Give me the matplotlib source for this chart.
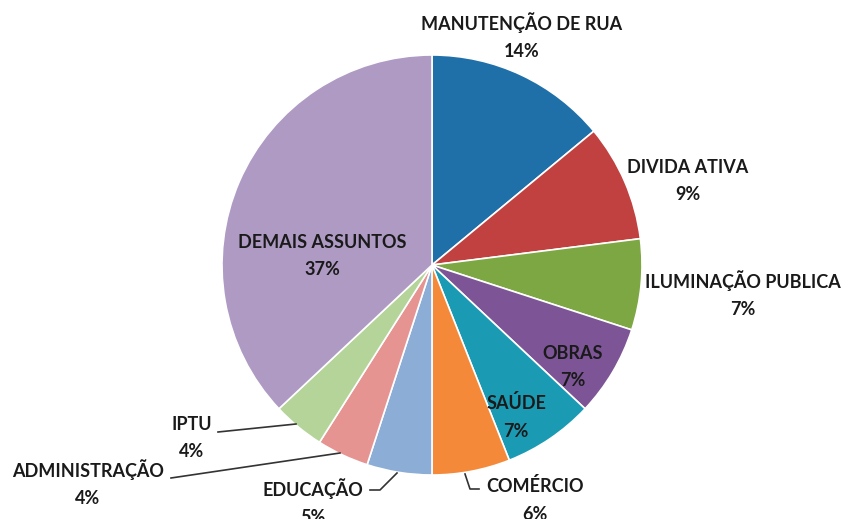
import matplotlib.pyplot as plt

# dados
categorias = ["MANUTENÇÃO DE RUA", "DIVIDA ATIVA", "ILUMINAÇÃO PUBLICA", "OBRAS",
              "SAÚDE", "COMÉRCIO", "EDUCAÇÃO", "ADMINISTRAÇÃO", "IPTU",
              "DEMAIS ASSUNTOS"]
percentuais = [14, 9, 7, 7, 7, 6, 5, 4, 4, 37]
cores = ["#1F6FA9", "#C0413F", "#7CA743", "#7D5597", "#1B9AB4",
         "#F4893A", "#8CADD6", "#E59492", "#B4D499", "#AE9AC3"]

# posicao dos rotulos (pixels na imagem: centro x, centro y)
pos_rotulos = [(522, 36), (688, 181), (743, 294), (573, 367), (516, 417),
               (535, 500), (313, 502), (88, 483), (192, 438), (322, 256)]
# linhas de chamada (pixels)
linhas = [
    [(218, 432), (296, 424)],
    [(171, 478), (340, 453)],
    [(370, 490), (380, 490), (397, 473)],
    [(465, 474), (470, 489), (479, 489)],
]

W, H = 849, 519
cx, cy, r = 432, 265, 210

fig = plt.figure(figsize=(W / 100, H / 100), dpi=100)
ax = fig.add_axes([(cx - r) / W, (H - cy - r) / H, 2 * r / W, 2 * r / H])
ax.pie(percentuais, colors=cores, startangle=90, counterclock=False, radius=1,
       wedgeprops=dict(edgecolor="white", linewidth=1.2))
ax.set_xlim(-1, 1)
ax.set_ylim(-1, 1)
ax.set_aspect("equal")
ax.axis("off")


def px(x, y):
    return (x - cx) / r, (cy - y) / r


for nome, p, (x, y) in zip(categorias, percentuais, pos_rotulos):
    tx, ty = px(x, y)
    ax.text(tx, ty, f"{nome}\n{p}%", ha="center", va="center",
            fontsize=13, fontweight="bold", family="Lato", color="#1a1a1a",
            linespacing=1.75, clip_on=False)

for lin in linhas:
    xs, ys = zip(*[px(x, y) for x, y in lin])
    ax.plot(xs, ys, color="#333333", lw=1.2, clip_on=False)

fig.savefig("out.png", dpi=100)
